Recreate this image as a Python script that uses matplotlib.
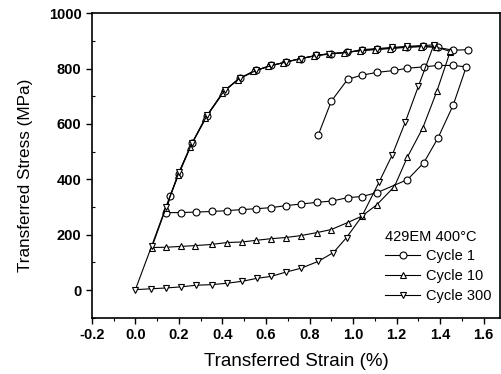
import matplotlib
matplotlib.use("Agg")
import matplotlib.pyplot as plt
from matplotlib.ticker import MultipleLocator

plt.rcParams['font.family'] = ['Liberation Sans', 'DejaVu Sans']

# Cycle 1: initial loading, unloading, reloading
c1_x = [0.84, 0.90, 0.975, 1.04, 1.11, 1.19, 1.25, 1.325, 1.39, 1.46, 1.52,
        1.46, 1.39, 1.325, 1.25, 1.11, 1.04, 0.975, 0.905, 0.835, 0.76, 0.69,
        0.625, 0.555, 0.49, 0.42, 0.35, 0.28, 0.21, 0.14,
        0.16, 0.20, 0.26, 0.33, 0.41, 0.48, 0.555, 0.625, 0.69, 0.76, 0.83,
        0.90, 0.97, 1.04, 1.11, 1.18, 1.25, 1.32, 1.39, 1.46, 1.53]
c1_y = [560, 682, 761, 776, 786, 793, 801, 806, 811, 811, 806,
        668, 549, 460, 399, 352, 338, 334, 322, 317, 311, 305,
        298, 294, 291, 287, 284, 282, 280, 280,
        340, 420, 530, 630, 720, 765, 793, 811, 823, 836, 847,
        854, 858, 866, 870, 874, 878, 880, 876, 866, 868]

# Cycle 10
c10_x = [1.445, 1.385, 1.32, 1.25, 1.19, 1.11, 1.04, 0.975, 0.90, 0.835, 0.76,
         0.69, 0.625, 0.555, 0.49, 0.42, 0.35, 0.275, 0.21, 0.14, 0.075,
         0.14, 0.195, 0.25, 0.32, 0.40, 0.47, 0.54, 0.61, 0.68, 0.75, 0.82,
         0.89, 0.96, 1.03, 1.10, 1.17, 1.24, 1.31, 1.38, 1.445]
c10_y = [858, 718, 585, 481, 374, 309, 267, 244, 219, 208, 197,
         190, 186, 180, 174, 172, 165, 161, 158, 155, 154,
         295, 415, 515, 620, 712, 760, 790, 808, 821, 834, 845,
         852, 857, 864, 868, 872, 876, 879, 878, 862]

# Cycle 300
c300_x = [1.37, 1.30, 1.24, 1.18, 1.12, 1.04, 0.97, 0.91, 0.84, 0.76, 0.69,
          0.625, 0.56, 0.49, 0.42, 0.35, 0.28, 0.21, 0.14, 0.07, 0.0,
          0.075, 0.14, 0.20, 0.26, 0.33, 0.41, 0.48, 0.555, 0.625, 0.69,
          0.76, 0.83, 0.89, 0.975, 1.04, 1.11, 1.18, 1.25, 1.32, 1.37]
c300_y = [883, 736, 607, 488, 391, 266, 190, 136, 104, 79, 65,
          50, 43, 32, 25, 20, 18, 12, 8, 5, 2,
          160, 300, 425, 530, 632, 722, 765, 793, 811, 823,
          836, 847, 854, 858, 868, 872, 876, 880, 883, 885]

fig = plt.figure(figsize=(5.02, 3.74), dpi=100)
ax = fig.add_axes([0.183, 0.150, 0.813, 0.815])

mk = dict(color='black', lw=0.8, markersize=5, markerfacecolor='white',
          markeredgecolor='black', markeredgewidth=0.8)
ax.plot(c1_x, c1_y, marker='o', label='Cycle 1', **mk)
ax.plot(c10_x, c10_y, marker='^', label='Cycle 10', **mk)
ax.plot(c300_x, c300_y, marker='v', label='Cycle 300', **mk)

ax.set_xlim(-0.2, 1.675)
ax.set_ylim(-100, 1000)
ax.xaxis.set_minor_locator(MultipleLocator(0.1))
ax.yaxis.set_major_locator(MultipleLocator(200))
ax.yaxis.set_minor_locator(MultipleLocator(100))
ax.set_xticks([-0.2, 0.0, 0.2, 0.4, 0.6, 0.8, 1.0, 1.2, 1.4, 1.6])
ax.set_xticklabels(['-0.2', '0.0', '0.2', '0.4', '0.6', '0.8', '1.0', '1.2', '1.4', '1.6'])
ax.tick_params(which='major', direction='out', length=4, width=1, labelsize=10.5)
ax.tick_params(axis='x', which='minor', direction='out', length=2, width=0.8)
ax.tick_params(axis='y', which='minor', direction='in', length=2, width=0.8)
for lbl in ax.get_xticklabels() + ax.get_yticklabels():
    lbl.set_fontweight('bold')
for s in ax.spines.values():
    s.set_linewidth(1.2)

ax.set_xlabel('Transferred Strain (%)', fontsize=13.5, labelpad=8)
ax.set_ylabel('Transferred Stress (MPa)', fontsize=12.3)
ax.yaxis.set_label_coords(-0.145, 0.469)

leg = ax.legend(loc='lower left', bbox_to_anchor=(0.68, -0.004), frameon=False,
                title='429EM 400°C', title_fontsize=10.5, fontsize=10.5,
                handlelength=2.4, handletextpad=0.4, labelspacing=0.4,
                borderpad=0.6, alignment='left')

fig.savefig('out.png', dpi=100)
